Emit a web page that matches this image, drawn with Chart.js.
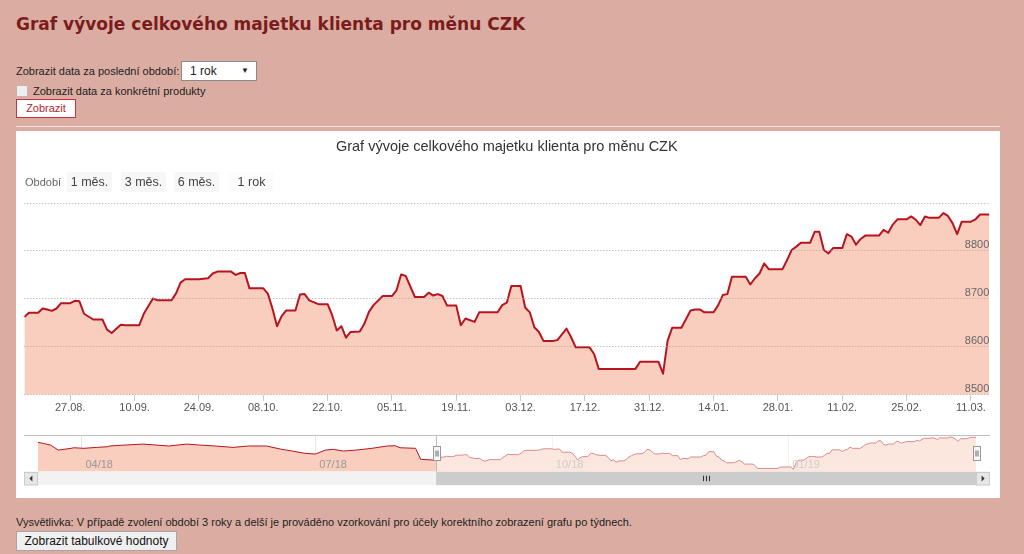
<!DOCTYPE html>
<html lang="cs">
<head>
<meta charset="utf-8">
<title>Graf vývoje celkového majetku klienta</title>
<script src="https://cdn.jsdelivr.net/npm/chart.js@4.4.1/dist/chart.umd.min.js"></script>
<style>
  html, body { margin: 0; padding: 0; }
  body {
    width: 1024px; height: 554px; position: relative; overflow: hidden;
    background: #dbada2; color: #222;
    font-family: "Liberation Sans", Arial, sans-serif; font-size: 11px;
  }
  h1 {
    position: absolute; left: 16px; top: 12px; margin: 0;
    font: bold 17px/24px "DejaVu Sans", Verdana, sans-serif; color: #7a1c1c;
    white-space: nowrap;
  }
  .abs { position: absolute; white-space: nowrap; }
  .period-label { left: 16px; top: 63px; line-height: 16px; }
  .select {
    left: 181px; top: 61px; width: 74px; height: 18px; line-height: 18px;
    background: #fff; border: 1px solid #8a8a8a; font-size: 12px;
  }
  .select span { position: absolute; left: 8px; }
  .select i { position: absolute; right: 7px; top: 0; font-style: normal; font-size: 8px; }
  .check {
    left: 16px; top: 85px; width: 10px; height: 10px;
    background: #eee; border: 1px solid #c4b4b0; border-radius: 1px;
  }
  .check-label { left: 33px; top: 83px; line-height: 16px; }
  .btn-show {
    left: 16px; top: 99px; width: 58px; height: 17px; line-height: 17px;
    background: #fff; border: 1px solid #c8323c; color: #b3262f; text-align: center;
  }
  .rule { left: 16px; top: 126px; width: 984px; height: 1px; background: #f1e1dc; }
  .panel { left: 16px; top: 131px; width: 984px; height: 367px; background: #fff; }
  .range-label { left: 25px; top: 175px; line-height: 14px; color: #666; font-size: 11px; }
  .range-btn {
    top: 172px; width: 45px; height: 20px; line-height: 20px; text-align: center;
    background: #f7f7f7; color: #444; font-size: 12.5px;
  }
  .note { left: 16px; top: 515px; line-height: 14px; }
  .btn-table {
    left: 16px; top: 531px; width: 159px; height: 18px; line-height: 18px;
    background: #efefef; border: 1px solid #a6a6a6; color: #111; font-size: 12px; text-align: center;
  }
  canvas { position: absolute; }
  #mainChart { left: 16px; top: 131px; }
  #navChart { left: 16px; top: 430px; }
</style>
</head>
<body>
<h1>Graf vývoje celkového majetku klienta pro měnu CZK</h1>
<div class="abs period-label">Zobrazit data za poslední období:</div>
<div class="abs select"><span>1 rok</span><i>▼</i></div>
<div class="abs check"></div>
<div class="abs check-label">Zobrazit data za konkrétní produkty</div>
<div class="abs btn-show">Zobrazit</div>
<div class="abs rule"></div>
<div class="abs panel"></div>

<canvas id="mainChart" width="984" height="290"></canvas>
<canvas id="navChart" width="984" height="60"></canvas>

<div class="abs range-label">Období</div>
<div class="abs range-btn" style="left:67px">1 měs.</div>
<div class="abs range-btn" style="left:121px">3 měs.</div>
<div class="abs range-btn" style="left:174px">6 měs.</div>
<div class="abs range-btn" style="left:229px;background:#fcfcfc">1 rok</div>

<div class="abs note">Vysvětlivka: V případě zvolení období 3 roky a delší je prováděno vzorkování pro účely korektního zobrazení grafu po týdnech.</div>
<div class="abs btn-table">Zobrazit tabulkové hodnoty</div>

<script>
const mainDays = [
  -10, -9, -7, -6, -5, -4, -3, -2, 0, 1, 2, 3, 5, 7, 8, 9, 11, 12, 15, 16,
  18, 19, 22, 23, 24, 25, 28, 30, 31, 32, 35, 36, 37, 38, 39, 42, 43, 44, 45, 46,
  47, 49, 50, 51, 52, 54, 56, 57, 58, 59, 60, 61, 63, 64, 65, 66, 68, 70, 71, 72,
  73, 75, 77, 78, 79, 80, 81, 82, 84, 85, 86, 88, 89, 93, 94, 95, 96, 98, 99, 100,
  101, 102, 103, 105, 106, 108, 109, 110, 113, 114, 115, 123, 124, 128, 129, 130, 131, 133, 134, 135,
  136, 137, 138, 140, 141, 142, 143, 144, 147, 148, 149, 150, 151, 152, 155, 156, 157, 158, 159, 161,
  162, 163, 164, 165, 166, 168, 169, 170, 171, 172, 173, 176, 177, 178, 179, 180, 182, 183, 184, 185,
  186, 187, 189, 190, 191, 192, 193, 194, 196, 197, 198, 200
];
const mainValues = [
  8662, 8671, 8671, 8680, 8678, 8675, 8680, 8691, 8691, 8696, 8695, 8669, 8657, 8657, 8636, 8629, 8646, 8645, 8645, 8669,
  8701, 8697, 8697, 8711, 8734, 8741, 8741, 8743, 8753, 8757, 8757, 8750, 8754, 8754, 8722, 8722, 8711, 8680, 8643, 8664,
  8676, 8676, 8709, 8710, 8697, 8689, 8689, 8666, 8634, 8643, 8619, 8631, 8632, 8648, 8673, 8687, 8706, 8706, 8718, 8751,
  8748, 8704, 8704, 8713, 8707, 8710, 8706, 8686, 8686, 8645, 8659, 8652, 8672, 8672, 8687, 8692, 8727, 8727, 8682, 8672,
  8641, 8631, 8612, 8612, 8614, 8638, 8620, 8599, 8599, 8585, 8554, 8554, 8569, 8569, 8544, 8613, 8640, 8640, 8658, 8676,
  8678, 8678, 8672, 8672, 8687, 8708, 8710, 8746, 8746, 8730, 8743, 8753, 8774, 8762, 8762, 8781, 8802, 8809, 8817, 8817,
  8840, 8840, 8802, 8795, 8806, 8806, 8835, 8830, 8813, 8825, 8832, 8832, 8844, 8838, 8855, 8866, 8866, 8872, 8865, 8854,
  8872, 8869, 8869, 8879, 8873, 8858, 8835, 8861, 8861, 8866, 8876, 8876
];

// older part of the year, visible only in the navigator
const navDays = [
  -165, -163, -160, -157, -152, -151, -147, -142, -138, -137, -131, -124, -119, -114, -107, -102, -96, -89,
  -83, -76, -70, -66, -61, -57, -53, -50, -46, -41, -35, -29, -26, -24, -18, -16, -11
];
const navValues = [
  8824, 8814, 8796, 8744, 8762, 8768, 8762, 8772, 8778, 8786, 8796, 8806, 8796, 8786, 8806, 8796, 8786, 8772,
  8786, 8786, 8751, 8734, 8710, 8703, 8744, 8751, 8734, 8744, 8762, 8786, 8789, 8768, 8762, 8648, 8640
];

const tickDays = [0, 14, 28, 42, 56, 70, 84, 98, 112, 126, 140, 154, 168, 182, 196];
const tickLabels = ['27.08.', '10.09.', '24.09.', '08.10.', '22.10.', '05.11.', '19.11.', '03.12.',
  '17.12.', '31.12.', '14.01.', '28.01.', '11.02.', '25.02.', '11.03.'];
const navMonthDays = [-148, -57, 35, 127];
const navMonthLabels = ['04/18', '07/18', '10/18', '01/19'];

const LINE = '#b8141f';
const FILL = '#f9cebe';
const selFrom = mainDays[0];
const selTo = mainDays[mainDays.length - 1];

Chart.defaults.font.family = '"Liberation Sans", Arial, sans-serif';

new Chart(document.getElementById('mainChart'), {
  type: 'line',
  data: {
    datasets: [{
      data: mainDays.map((d, i) => ({ x: d, y: mainValues[i] })),
      borderColor: LINE,
      borderWidth: 2,
      backgroundColor: FILL,
      fill: 'start',
      tension: 0,
      pointRadius: 0,
      borderJoinStyle: 'round'
    }]
  },
  options: {
    responsive: false,
    animation: false,
    events: [],
    layout: { padding: { left: 8.3, right: 10.7, top: 0, bottom: 5 } },
    plugins: {
      legend: { display: false },
      tooltip: { enabled: false },
      title: {
        display: true,
        text: 'Graf vývoje celkového majetku klienta pro měnu CZK',
        color: '#333',
        font: { size: 14.5, weight: 'normal' },
        padding: { top: 6.8, bottom: 47.8 }
      }
    },
    scales: {
      x: {
        type: 'linear',
        min: selFrom,
        max: selTo,
        afterBuildTicks: s => { s.ticks = tickDays.map(v => ({ value: v })); },
        grid: { drawOnChartArea: false, drawTicks: true, tickLength: 6, color: '#c8c8c8' },
        border: { display: false },
        ticks: {
          autoSkip: false, maxRotation: 0, padding: 1,
          color: '#555', font: { size: 11 },
          callback: (v, i) => tickLabels[i]
        }
      },
      y: {
        position: 'right',
        min: 8500,
        max: 8900,
        grid: { color: '#a9a9a9', drawTicks: false, z: 1 },
        border: { display: false, dash: [1, 2] },
        ticks: {
          z: 2, stepSize: 100, mirror: true, padding: 0, labelOffset: -6,
          color: '#666', font: { size: 11 },
          callback: v => (v === 8900 ? '' : String(v))
        }
      }
    }
  }
});

const navDecor = {
  id: 'navDecor',
  beforeDatasetsDraw(chart) {
    const { ctx, chartArea: a, scales: { x } } = chart;
    ctx.save();
    ctx.strokeStyle = '#e6e6e6';
    ctx.lineWidth = 1;
    navMonthDays.forEach(d => {
      const px = Math.round(x.getPixelForValue(d)) + 0.5;
      ctx.beginPath();
      ctx.moveTo(px, a.top);
      ctx.lineTo(px, a.bottom);
      ctx.stroke();
    });
    ctx.restore();
  },
  afterDatasetsDraw(chart) {
    const { ctx, chartArea: a, scales: { x } } = chart;
    const x0 = x.getPixelForValue(selFrom);
    const x1 = x.getPixelForValue(selTo);
    const left = 8, right = 974;
    ctx.save();

    // month labels
    ctx.fillStyle = '#999';
    ctx.font = '11px "Liberation Sans", Arial, sans-serif';
    ctx.textBaseline = 'middle';
    navMonthDays.forEach((d, i) => {
      ctx.fillText(navMonthLabels[i], x.getPixelForValue(d) + 4, a.bottom - 7);
    });

    // mask over selected range
    ctx.fillStyle = 'rgba(255,255,255,0.5)';
    ctx.fillRect(x0, a.top, x1 - x0, a.bottom - a.top);

    // outline
    ctx.strokeStyle = '#bdbdbd';
    ctx.lineWidth = 1;
    ctx.beginPath();
    ctx.moveTo(left, a.top + 0.5);
    ctx.lineTo(right, a.top + 0.5);
    ctx.moveTo(Math.round(x0) + 0.5, a.top);
    ctx.lineTo(Math.round(x0) + 0.5, a.bottom);
    ctx.stroke();

    // handles
    const hy = Math.round((a.top + a.bottom) / 2 - 7) + 0.5;
    [x0, x1].forEach(hx => {
      const l = Math.round(hx - 3.5) + 0.5;
      ctx.fillStyle = '#f7f7f7';
      ctx.strokeStyle = '#999';
      ctx.fillRect(l, hy, 7, 14);
      ctx.strokeRect(l, hy, 7, 14);
      ctx.strokeStyle = '#666';
      ctx.beginPath();
      ctx.moveTo(l + 2.5, hy + 4); ctx.lineTo(l + 2.5, hy + 10);
      ctx.moveTo(l + 4.5, hy + 4); ctx.lineTo(l + 4.5, hy + 10);
      ctx.stroke();
    });

    // scrollbar
    const sy = a.bottom, sh = 13.5;
    ctx.fillStyle = '#f2f2f2';
    ctx.fillRect(left, sy, right - left, sh);
    ctx.fillStyle = '#cccccc';
    ctx.fillRect(x0, sy, x1 - x0, sh);
    ctx.strokeStyle = '#333';
    const cx = Math.round((x0 + x1) / 2) + 0.5;
    ctx.beginPath();
    [-3, 0, 3].forEach(o => { ctx.moveTo(cx + o, sy + 4); ctx.lineTo(cx + o, sy + 9.5); });
    ctx.stroke();
    [[left, 1], [right - 13.7, -1]].forEach(([bx, dir]) => {
      ctx.fillStyle = '#e6e6e6';
      ctx.strokeStyle = '#cccccc';
      ctx.fillRect(bx, sy, 13.7, sh);
      ctx.strokeRect(Math.round(bx) + 0.5, Math.round(sy) + 0.5, 13, sh - 1);
      ctx.fillStyle = '#333';
      const mx = bx + 6.85, my = sy + sh / 2;
      ctx.beginPath();
      ctx.moveTo(mx - 1.5 * dir, my);
      ctx.lineTo(mx + 1.5 * dir, my - 3);
      ctx.lineTo(mx + 1.5 * dir, my + 3);
      ctx.closePath();
      ctx.fill();
    });
    ctx.restore();
  }
};

const allDays = navDays.concat(mainDays);
const allValues = navValues.concat(mainValues);

new Chart(document.getElementById('navChart'), {
  type: 'line',
  data: {
    datasets: [{
      data: allDays.map((d, i) => ({ x: d, y: allValues[i] })),
      borderColor: LINE,
      borderWidth: 1,
      backgroundColor: FILL,
      fill: 'start',
      tension: 0,
      pointRadius: 0
    }]
  },
  options: {
    responsive: false,
    animation: false,
    events: [],
    layout: { padding: { left: 21.7, right: 24, top: 5, bottom: 18.3 } },
    plugins: { legend: { display: false }, tooltip: { enabled: false } },
    scales: {
      x: { type: 'linear', min: allDays[0], max: selTo, display: false },
      y: { min: 8520, max: 8900, display: false }
    }
  },
  plugins: [navDecor]
});
</script>
</body>
</html>
